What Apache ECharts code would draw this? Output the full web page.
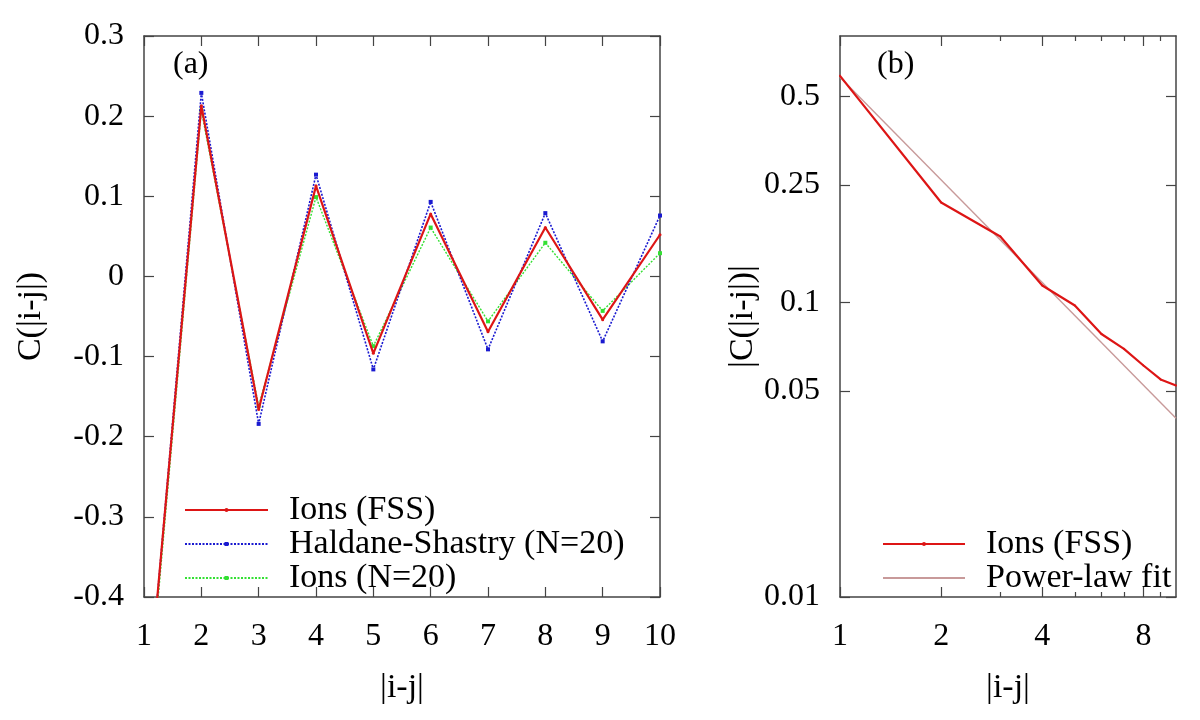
<!DOCTYPE html>
<html>
<head>
<meta charset="utf-8">
<script src="https://cdn.jsdelivr.net/npm/echarts@6/dist/echarts.min.js"></script>
<style>html,body{margin:0;padding:0;background:#fff;}#c{width:1200px;height:720px;}</style>
</head>
<body>
<div id="c"></div>
<script>
// ---- data ----
const distance = [1, 2, 3, 4, 5, 6, 7, 8, 9, 10];
const ionsFSS = [-0.586, 0.213, -0.166, 0.113, -0.096, 0.078, -0.069, 0.061, -0.054, 0.052];
const haldaneShastry = [-0.59, 0.229, -0.184, 0.127, -0.116, 0.093, -0.091, 0.079, -0.081, 0.076];
const ionsN20 = [-0.6, 0.207, -0.162, 0.099, -0.087, 0.061, -0.056, 0.042, -0.043, 0.029];
const absIonsFSS = [0.586, 0.218, 0.167, 0.114, 0.0975, 0.078, 0.0695, 0.061, 0.0547, 0.0522];
const fitX = [1, 10];
const fitY = [0.58, 0.0404];
const yTicksB = [0.01, 0.05, 0.1, 0.25, 0.5];
const xLabelsB = [1, 2, 4, 8];
const xMinorB = [3, 5, 6, 7, 9];

const FONT = 'Liberation Serif';
const AX = '#444';
const pairs = (xs, ys) => xs.map((x, i) => [x, ys[i]]);

const frameLine = {show: true, onZero: false, lineStyle: {color: AX, width: 1.5}};
const tickIn = (len, extra) => Object.assign({show: true, inside: true, length: len, lineStyle: {color: AX, width: 1.2}}, extra || {});
const lbl = (extra) => Object.assign({color: '#000', fontFamily: FONT, fontSize: 32}, extra || {});
const nameStyle = {color: '#000', fontFamily: FONT, fontSize: 34};
const legendText = {fontFamily: FONT, fontSize: 34, color: '#000', lineHeight: 34, padding: [0, 0, 0, 16]};

const chart = echarts.init(document.getElementById('c'), null, {renderer: 'canvas'});
chart.setOption({
  animation: false,
  backgroundColor: '#fff',
  title: [
    {text: '(a)', left: 168, top: 44, textStyle: {fontFamily: FONT, fontSize: 32, fontWeight: 'normal', color: '#000'}},
    {text: '(b)', left: 872, top: 44, textStyle: {fontFamily: FONT, fontSize: 32, fontWeight: 'normal', color: '#000'}}
  ],
  grid: [
    {left: 144, top: 36, width: 516, height: 561},
    {left: 840, top: 36, width: 336, height: 561}
  ],
  legend: [
    {
      data: ['Ions (FSS)', 'Haldane-Shastry (N=20)', 'Ions (N=20)'],
      orient: 'vertical', left: 184, top: 493, itemWidth: 83, itemHeight: 5, itemGap: 0,
      textStyle: legendText, padding: 0, selectedMode: false
    },
    {
      data: ['Ions (FSS) ', {name: 'Power-law fit', itemStyle: {opacity: 0}}],
      orient: 'vertical', left: 882, top: 527, itemWidth: 82, itemHeight: 5, itemGap: 0,
      textStyle: legendText, padding: 0, selectedMode: false
    }
  ],
  xAxis: [
    {gridIndex: 0, type: 'value', position: 'bottom', min: 1, max: 10, interval: 1,
     axisLine: frameLine, axisTick: tickIn(10), splitLine: {show: false},
     axisLabel: lbl({margin: 24}),
     name: '|i-j|', nameLocation: 'middle', nameGap: 74, nameTextStyle: nameStyle},
    {gridIndex: 0, type: 'value', position: 'top', min: 1, max: 10, interval: 1,
     axisLine: frameLine, axisTick: tickIn(10), splitLine: {show: false}, axisLabel: {show: false}},
    {gridIndex: 1, type: 'log', logBase: 2, position: 'bottom', min: 1, max: 10,
     axisLine: frameLine, axisTick: tickIn(10, {customValues: xLabelsB}), splitLine: {show: false}, minorTick: {show: false},
     axisLabel: lbl({margin: 24, customValues: xLabelsB, formatter: v => String(Math.round(v))}),
     name: '|i-j|', nameLocation: 'middle', nameGap: 74, nameTextStyle: nameStyle},
    {gridIndex: 1, type: 'log', logBase: 2, position: 'bottom', min: 1, max: 10,
     axisLine: {show: false, onZero: false}, axisTick: tickIn(5, {customValues: xMinorB}), splitLine: {show: false}, axisLabel: {show: false}},
    {gridIndex: 1, type: 'log', logBase: 2, position: 'top', min: 1, max: 10,
     axisLine: frameLine, axisTick: tickIn(10, {customValues: xLabelsB}), splitLine: {show: false}, axisLabel: {show: false}},
    {gridIndex: 1, type: 'log', logBase: 2, position: 'top', min: 1, max: 10,
     axisLine: {show: false, onZero: false}, axisTick: tickIn(5, {customValues: xMinorB}), splitLine: {show: false}, axisLabel: {show: false}}
  ],
  yAxis: [
    {gridIndex: 0, type: 'value', position: 'left', min: -0.4, max: 0.3, interval: 0.1,
     axisLine: frameLine, axisTick: tickIn(10), splitLine: {show: false},
     axisLabel: lbl({margin: 20, formatter: v => String(Math.round(v * 10) / 10)}),
     name: 'C(|i-j|)', nameLocation: 'middle', nameGap: 96, nameTextStyle: nameStyle},
    {gridIndex: 0, type: 'value', position: 'right', min: -0.4, max: 0.3, interval: 0.1,
     axisLine: frameLine, axisTick: tickIn(10), splitLine: {show: false}, axisLabel: {show: false}},
    {gridIndex: 1, type: 'log', logBase: 10, position: 'left', min: 0.01, max: 0.8,
     axisLine: frameLine, axisTick: tickIn(10, {customValues: yTicksB}), splitLine: {show: false}, minorTick: {show: false},
     axisLabel: lbl({margin: 20, customValues: yTicksB, formatter: v => String(+(+v).toFixed(3))}),
     name: '|C(|i-j|)|', nameLocation: 'middle', nameGap: 50, nameTextStyle: nameStyle},
    {gridIndex: 1, type: 'log', logBase: 10, position: 'right', min: 0.01, max: 0.8,
     axisLine: frameLine, axisTick: tickIn(10, {customValues: yTicksB}), splitLine: {show: false}, axisLabel: {show: false}}
  ],
  series: [
    {name: 'Ions (FSS)', type: 'line', xAxisIndex: 0, yAxisIndex: 0, data: pairs(distance, ionsFSS),
     color: '#dd1515', lineStyle: {width: 2.2, color: '#dd1515'}, symbol: 'circle', symbolSize: 3, z: 4},
    {name: 'Haldane-Shastry (N=20)', type: 'line', xAxisIndex: 0, yAxisIndex: 0, data: pairs(distance, haldaneShastry),
     color: '#1a1ad0', lineStyle: {width: 1.6, type: [2, 1.5], color: '#1a1ad0'}, symbol: 'rect', symbolSize: 4, z: 3},
    {name: 'Ions (N=20)', type: 'line', xAxisIndex: 0, yAxisIndex: 0, data: pairs(distance, ionsN20),
     color: '#33e033', lineStyle: {width: 1.4, type: [2, 1.5], color: '#33e033'}, symbol: 'rect', symbolSize: 4, z: 2},
    {name: 'Ions (FSS) ', type: 'line', xAxisIndex: 2, yAxisIndex: 2, data: pairs(distance, absIonsFSS),
     color: '#dd1515', lineStyle: {width: 2.2, color: '#dd1515'}, symbol: 'circle', symbolSize: 2, z: 4},
    {name: 'Power-law fit', type: 'line', xAxisIndex: 2, yAxisIndex: 2, data: pairs(fitX, fitY),
     color: '#c89a9a', lineStyle: {width: 1.4, color: '#c89a9a'}, symbol: 'none', showSymbol: false, z: 3}
  ]
});
</script>
</body>
</html>
